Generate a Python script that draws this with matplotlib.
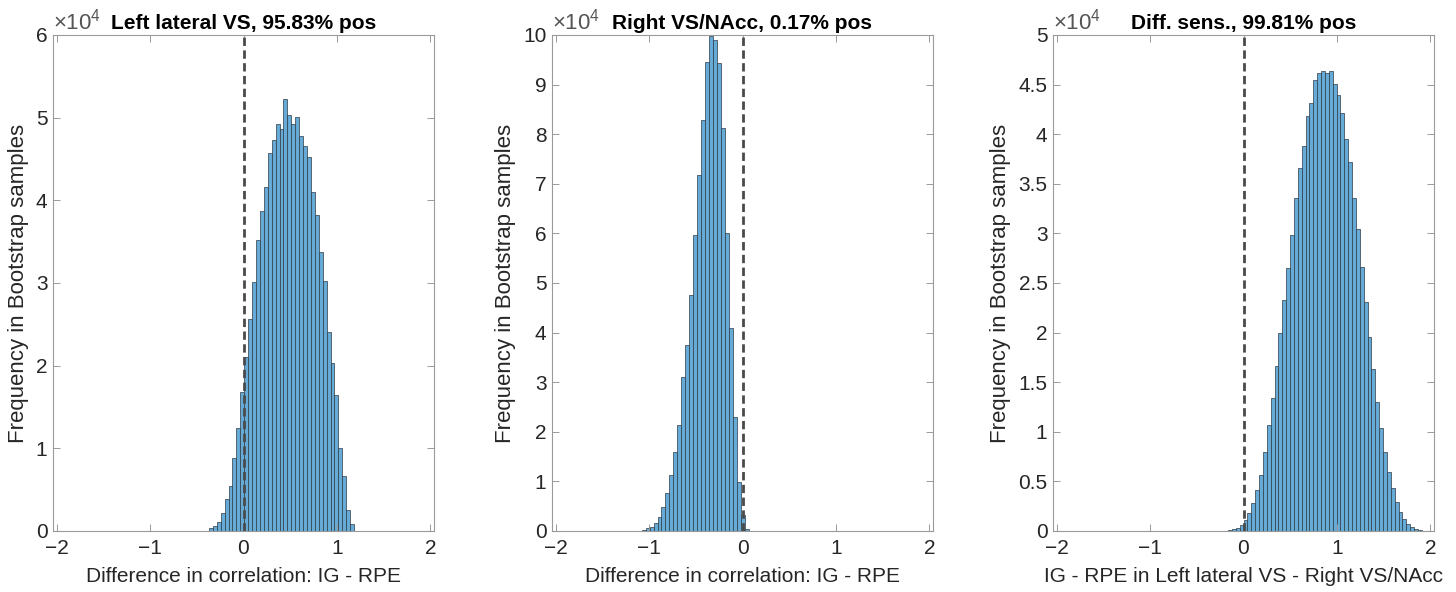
import numpy as np
import matplotlib
matplotlib.use("Agg")
import matplotlib.pyplot as plt

plt.rcParams['font.family'] = ['Liberation Sans', 'DejaVu Sans']
plt.rcParams['mathtext.fontset'] = 'custom'
plt.rcParams['mathtext.rm'] = 'Liberation Sans'

# --- DATA (bar heights in units of 10^4 bootstrap samples) ---
left_vs_counts = [0.04, 0.06, 0.11, 0.22, 0.39, 0.54, 0.88, 1.25, 1.68, 2.10,
                  2.57, 3.01, 3.52, 3.87, 4.16, 4.57, 4.73, 4.92, 4.86, 5.22,
                  5.03, 4.92, 5.01, 4.78, 4.66, 4.52, 4.10, 3.82, 3.37, 3.02,
                  2.41, 2.03, 1.64, 1.00, 0.67, 0.25, 0.08]
left_vs_start = -0.37
left_vs_width = 0.042

right_vs_counts = [0.02, 0.06, 0.09, 0.16, 0.28, 0.48, 0.76, 1.13, 1.60, 2.13,
                   3.10, 3.75, 4.76, 5.97, 7.18, 8.29, 9.46, 9.98, 9.89, 9.43,
                   8.13, 6.01, 4.09, 2.30, 0.99, 0.32, 0.05]
right_vs_start = -1.08
right_vs_width = 0.0425

diff_counts = [0.005, 0.01, 0.02, 0.03, 0.06, 0.11, 0.18, 0.28, 0.41, 0.56,
               0.80, 1.07, 1.34, 1.66, 2.00, 2.33, 2.65, 2.98, 3.36, 3.66,
               3.88, 4.18, 4.31, 4.55, 4.62, 4.64, 4.62, 4.64, 4.51, 4.40,
               4.21, 3.95, 3.72, 3.36, 3.04, 2.66, 2.31, 1.96, 1.63, 1.30,
               1.04, 0.80, 0.59, 0.43, 0.29, 0.19, 0.12, 0.07, 0.04, 0.02,
               0.01]
diff_start = -0.2075
diff_width = 0.0415

titles = ["Left lateral VS, 95.83% pos",
          "Right VS/NAcc, 0.17% pos",
          "Diff. sens., 99.81% pos"]
xlabels = ["Difference in correlation: IG - RPE",
           "Difference in correlation: IG - RPE",
           "IG - RPE in Left lateral VS - Right VS/NAcc"]
ylabel = "Frequency in Bootstrap samples"
ymax = [6, 10, 5]
ystep = [1, 1, 0.5]

panels = [(left_vs_counts, left_vs_start, left_vs_width),
          (right_vs_counts, right_vs_start, right_vs_width),
          (diff_counts, diff_start, diff_width)]

# --- STYLE ---
BAR_FACE = '#66aad7'
BAR_EDGE = '#2e3a44'
TEXT_C = '#262626'
AX_C = '#9a9a9a'
FS = 15

fig = plt.figure(figsize=(14.56, 5.92), dpi=100)
lefts = [53 / 1456, 552 / 1456, 1053 / 1456]
w = 381 / 1456
bottom = 61 / 592
h = 496 / 592

for i, (counts, start, width) in enumerate(panels):
    ax = fig.add_axes([lefts[i], bottom, w, h])
    counts = np.array(counts)
    edges = start + width * np.arange(len(counts))
    ax.bar(edges, counts, width=width, align='edge', color=BAR_FACE,
           edgecolor=BAR_EDGE, linewidth=0.5)
    ax.axvline(0, color='#4a4a4a', lw=2.0, linestyle=(0, (3, 1.6)), zorder=3)

    ax.set_xlim(-2.04, 2.04)
    ax.set_ylim(0, ymax[i])
    ax.set_xticks([-2, -1, 0, 1, 2])
    yt = np.arange(0, ymax[i] + 1e-9, ystep[i])
    ax.set_yticks(yt)
    ax.set_yticklabels([f"{v:g}" for v in yt])
    ax.tick_params(direction='in', top=True, right=True, length=5,
                   width=0.7, color=AX_C, labelcolor=TEXT_C, labelsize=FS)
    ax.tick_params(axis='x', pad=6)
    ax.tick_params(axis='y', pad=4)
    for s in ax.spines.values():
        s.set_color(AX_C)
        s.set_linewidth(0.8)

    ax.set_xlabel(xlabels[i], fontsize=FS, color=TEXT_C, labelpad=6)
    ax.set_ylabel(ylabel, fontsize=16, color=TEXT_C, labelpad=5)
    ax.set_title(titles[i], fontsize=FS, fontweight='bold', color='black',
                 pad=4)
    ax.text(0.0, 1.002, r'$\times10^{4}$', transform=ax.transAxes,
            ha='left', va='bottom', fontsize=16, color='#555555')

fig.savefig("out.png", dpi=100)
